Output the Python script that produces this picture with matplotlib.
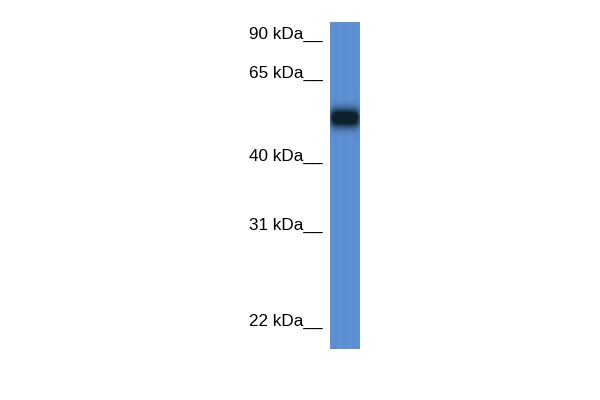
import numpy as np
import matplotlib
matplotlib.use('Agg')
import matplotlib.pyplot as plt
from matplotlib.colors import to_rgb

# marker ladder (kDa) and where each sits on the blot (pixel rows)
marker_kda = [90, 65, 40, 31, 22]
marker_row = [33, 72, 155, 224, 320]

# lane extent in pixels (left, right, top, bottom)
lane_x = [330, 360]
lane_y = [22, 349]

# detected band: centre row, half-height, strength
band_row = 118
band_halfh = 6.5
band_strength = 0.97

lane_col = np.array(to_rgb('#5d91d3'))
band_col = np.array(to_rgb('#0a1e28'))

nrow = lane_y[1] - lane_y[0]
ncol = lane_x[1] - lane_x[0]
rows = np.arange(nrow) + lane_y[0] + 0.5
cols = np.arange(ncol) + 0.5

# band profile, darker in the middle, soft edges
py = np.exp(-0.5 * ((rows - band_row) / band_halfh) ** 2)
px = np.exp(-0.5 * ((cols - ncol / 2) / 13.0) ** 6)
a = np.clip(1.4 * band_strength * np.outer(py, px), 0, band_strength)
# faint vertical streaks of the membrane
streak = 1 + 0.012 * np.cos(cols / ncol * 6 * np.pi)
img = lane_col[None, None, :] * streak[None, :, None] * (1 - a[..., None]) + band_col[None, None, :] * a[..., None]
img = np.clip(img, 0, 1)

fig = plt.figure(figsize=(6, 4), dpi=100)
ax = fig.add_axes([lane_x[0] / 600, 1 - lane_y[1] / 400,
                   (lane_x[1] - lane_x[0]) / 600, (lane_y[1] - lane_y[0]) / 400])
ax.imshow(img, extent=[lane_x[0], lane_x[1], lane_y[1], lane_y[0]], aspect='auto', interpolation='bilinear')
ax.set_xlim(lane_x)
ax.set_ylim(lane_y[1], lane_y[0])
ax.set_xticks([])
ax.set_yticks(marker_row)
ax.set_yticklabels([str(k) + ' kDa__' for k in marker_kda], fontsize=12.3, family='Liberation Sans')
ax.tick_params(axis='y', length=0, pad=5)
for s in ax.spines.values():
    s.set_visible(False)

fig.savefig('out.png', dpi=100)
